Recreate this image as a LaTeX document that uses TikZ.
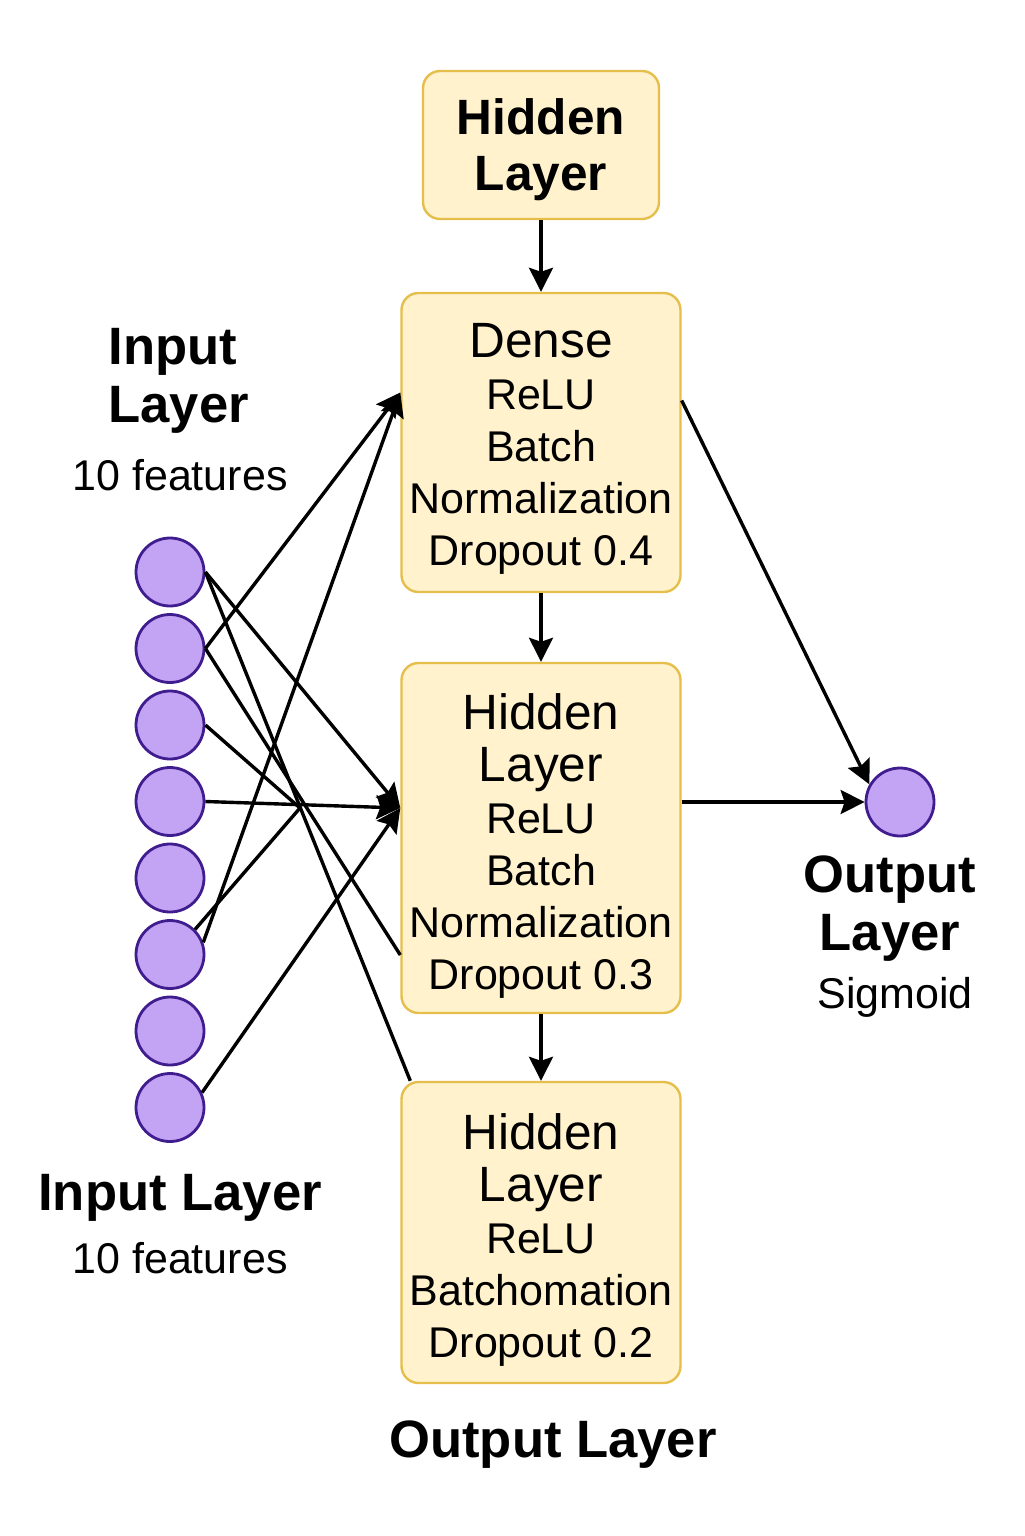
\documentclass[tikz,border=0pt]{standalone}
\usepackage{fontspec}
\setmainfont{Liberation Sans}
\usepackage{tikz}
\usetikzlibrary{arrows.meta,positioning}
\usepackage{xcolor}
\definecolor{boxfill}{HTML}{FFF2CC}
\definecolor{boxline}{HTML}{E5BE4B}
\definecolor{nfill}{HTML}{C3A3F4}
\definecolor{nline}{HTML}{3F1D8E}
\newcommand{\lyrname}[1]{{\fontsize{24.8}{26}\selectfont #1}}

\begin{document}
\begin{tikzpicture}[x=0.5pt,y=-0.5pt,
  node distance=35pt,
  box/.style={draw=boxline,fill=boxfill,line width=1.2pt,rounded corners=8.5pt,align=center,inner sep=0pt,minimum width=139.5pt,font=\fontsize{21.5}{26}\selectfont},
  hbox/.style={box,minimum width=118pt,minimum height=74pt,font=\bfseries\fontsize{24.8}{28}\selectfont},
  neuron/.style={circle,draw=nline,fill=nfill,line width=1.4pt,minimum size=34pt,inner sep=0pt},
  arr/.style={-{Stealth[length=12pt,width=12pt,inset=2pt]},line width=1.7pt},
  link/.style={line width=1.7pt},
  ttl/.style={font=\bfseries\fontsize{26.3}{29}\selectfont,inner sep=0pt},
  sub/.style={font=\fontsize{21.5}{26}\selectfont,inner sep=0pt}
]
\useasboundingbox (0,0) rectangle (1024,1536);
\node[hbox] (top) at (541,145) {\rule{0pt}{23pt}Hidden\\Layer};
\node[box,minimum height=149.5pt,below=35.8pt of top] (dense) {\rule{0pt}{23pt}\lyrname{Dense}\\ReLU\\Batch\\Normalization\\Dropout 0.4};
\node[box,minimum height=175pt,below=34.3pt of dense] (hid) {\rule{0pt}{26pt}\lyrname{Hidden}\\\lyrname{Layer}\\ReLU\\Batch\\Normalization\\Dropout 0.3};
\node[box,minimum height=150.5pt,below=33.3pt of hid] (outbox) {\rule{0pt}{25pt}\lyrname{Hidden}\\\lyrname{Layer}\\ReLU\\Batchomation\\Dropout 0.2};
\foreach \i in {1,...,8}
  \node[neuron] (in\i) at (170,{572+76.5*(\i-1)}) {};
\node[neuron] (outn) at (900,802) {};
\coordinate (hub) at (300,808);
\node[ttl,align=left,anchor=north west] (inttl) at (108,328) {Input\\Layer};
\node[sub,anchor=base] (infeat) at (180,490) {10 features};
\node[ttl,anchor=base] (inttl2) at (180,1210) {Input Layer};
\node[sub,anchor=base] (infeat2) at (180,1273) {10 features};
\node[ttl,align=center,anchor=north] (outttl) at (890,855) {Output\\Layer};
\node[sub,anchor=base] (outact) at (895,1008) {Sigmoid};
\node[ttl,anchor=base] (outttl2) at (553,1457) {Output Layer};
\draw[arr] (top)--(dense);
\draw[arr] (dense)--(hid);
\draw[arr] (hid)--(outbox);
\draw[arr] (in2.east)--([yshift=25pt]dense.west);
\draw[arr] (in6.20)--([yshift=25pt]dense.west);
\draw[arr] (in1.east)--([yshift=15pt]hid.west);
\draw[arr] (in4.east)--([yshift=15pt]hid.west);
\draw[arr] (in8.25)--([yshift=15pt]hid.west);
\draw[link] (in1.east)--([xshift=5pt]outbox.north west);
\draw[link] (in2.east)--([yshift=-58.5pt]hid.west);
\draw[link] (in3.east)--(hub);
\draw[link] (in6.45)--(hub);
\draw[arr] ([yshift=21pt]dense.east)--(outn.150);
\draw[arr] (hid.east |- outn)--(outn.west);
\end{tikzpicture}
\end{document}
